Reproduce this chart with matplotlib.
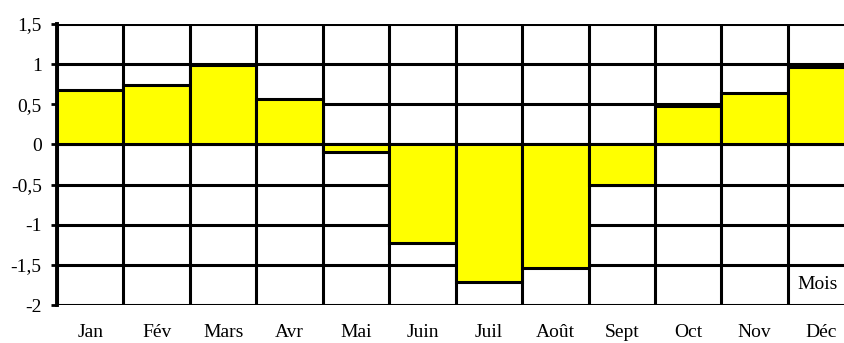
import numpy as np
import matplotlib.pyplot as plt

# monthly values (anomalies), one bar per month
mois = ["Jan", "Fév", "Mars", "Avr", "Mai", "Juin", "Juil", "Août", "Sept", "Oct", "Nov", "Déc"]
valeurs = [0.68, 0.74, 0.99, 0.57, -0.10, -1.23, -1.71, -1.54, -0.50, 0.48, 0.64, 0.96]

y_ticks = [-2, -1.5, -1, -0.5, 0, 0.5, 1, 1.5]
y_labels = ["-2", "-1,5", "-1", "-0,5", "0", "0,5", "1", "1,5"]

plt.rcParams["font.family"] = ["Liberation Serif", "DejaVu Serif"]

fig = plt.figure(figsize=(8.45, 3.43), dpi=100)
ax = fig.add_axes([57 / 845, 38 / 343, 1 - 57 / 845, 281 / 343])

x = np.arange(len(mois))
ax.bar(x, valeurs, width=1.0, color="#FFFF00", edgecolor="black", linewidth=2.2, zorder=3)

# grid: horizontal every 0.5, vertical at month boundaries
for yv in y_ticks:
    ax.axhline(yv, color="black", linewidth=2.2, zorder=1)
for xv in np.arange(-0.5, len(mois) + 0.5, 1.0):
    ax.axvline(xv, color="black", linewidth=2.2, zorder=1)

ax.set_xlim(-0.5, 11.36)
ax.set_ylim(-2, 1.5)
ax.set_yticks(y_ticks)
ax.set_yticklabels(y_labels, fontsize=14)
ax.set_xticks(x)
ax.set_xticklabels(mois, fontsize=14)
ax.tick_params(axis="x", length=0, pad=14)
ax.tick_params(axis="y", length=4, width=2, direction="out", pad=7)

for side in ["top", "right", "bottom"]:
    ax.spines[side].set_visible(False)
ax.spines["left"].set_linewidth(2.8)

ax.text(10.65, -1.75, "Mois", fontsize=14, ha="left", va="center", zorder=4)

fig.savefig("out.png", dpi=100)
